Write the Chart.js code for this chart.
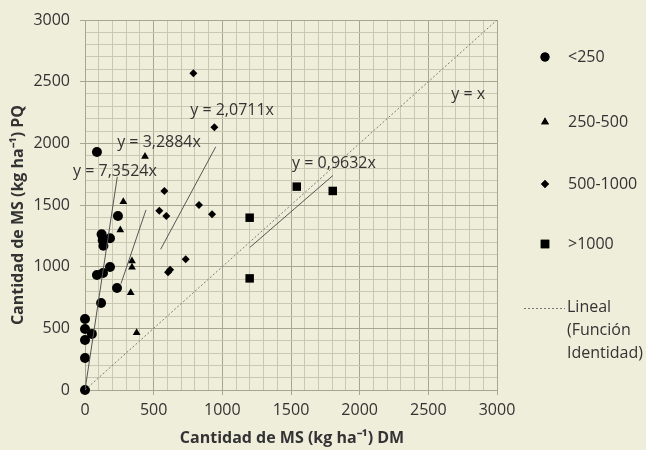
<!DOCTYPE html>
<html>
<head>
<meta charset="utf-8">
<script src="https://cdn.jsdelivr.net/npm/chart.js@4.4.1/dist/chart.umd.min.js"></script>
<style>
  html, body { margin: 0; padding: 0; background: #efeedb; }
  #wrap { width: 646px; height: 450px; }
</style>
</head>
<body>
<div id="wrap"><canvas id="report" width="646" height="450"></canvas></div>
<script>
// datos (kg MS/ha): x = DM, y = PQ
const menor250 = [
    [0, 0], [0, 260], [0, 405], [0, 495], [0, 575], [50, 455],
    [117, 705], [87, 932], [131, 949], [182, 998], [233, 827],
    [87, 1930], [240, 1411], [121, 1262], [129, 1215], [134, 1170], [182, 1230]
];
const de250a500 = [
    [437, 1893], [279, 1527], [257, 1298], [342, 1046], [342, 995], [333, 789], [376, 465]
];
const de500a1000 = [
    [789, 2568], [942, 2130], [578, 1614], [541, 1454], [592, 1411],
    [830, 1500], [925, 1425], [733, 1060], [605, 955], [620, 975]
];
const mayor1000 = [
    [1199, 1397], [1199, 905], [1542, 1649], [1804, 1614]
];

// tramos de las rectas de tendencia (extremos leídos)
const tendencia7 = [[0, 0], [235, 1728]];
const tendencia3 = [[262, 862], [444, 1460]];
const tendencia2 = [[551, 1141], [952, 1972]];
const tendencia09 = [[1200, 1156], [1805, 1739]];
const identidad = [[0, 0], [3000, 3000]];

const ecuaciones = ["y = 7,3524x", "y = 3,2884x", "y = 2,0711x", "y = 0,9632x", "y = x"];
const leyenda = ["<250", "250-500", "500-1000", ">1000"];
const leyendaLineal = ["Lineal", "(Función", "Identidad)"];

const toXY = arr => arr.map(p => ({ x: p[0], y: p[1] }));
const FONT = "'Open Sans', sans-serif";
const TXT = "#333333";

function puntos(label, data, style, radius) {
    return {
        type: 'scatter', label: label, data: toXY(data), clip: false,
        pointStyle: style, pointRadius: radius, pointHoverRadius: radius,
        backgroundColor: '#000', borderColor: '#000', borderWidth: 0
    };
}
function recta(data, color, dash) {
    return {
        type: 'line', data: toXY(data), showLine: true,
        borderColor: color, borderWidth: 1, borderDash: dash || [],
        pointRadius: 0, fill: false
    };
}

const textosPlugin = {
    id: 'textos',
    afterDraw(chart) {
        const ctx = chart.ctx;
        const xs = chart.scales.x, ys = chart.scales.y;
        ctx.save();
        ctx.fillStyle = TXT;
        ctx.font = "16px " + FONT;
        ctx.textAlign = 'center';
        ctx.textBaseline = 'middle';
        // ecuaciones, ancladas en coordenadas de datos
        const anclas = [[218, 1776], [539, 2011], [1071, 2263], [1813, 1841], [2790, 2400]];
        ecuaciones.forEach((t, i) => {
            ctx.fillText(t, xs.getPixelForValue(anclas[i][0]), ys.getPixelForValue(anclas[i][1]));
        });

        // títulos de ejes
        ctx.font = "bold 16px " + FONT;
        ctx.fillText("Cantidad de MS (kg ha⁻¹) DM", 292, 438);
        ctx.save();
        ctx.translate(18, 215);
        ctx.rotate(-Math.PI / 2);
        ctx.fillText("Cantidad de MS (kg ha⁻¹) PQ", 0, 0);
        ctx.restore();

        // leyenda
        const estilos = ['circle', 'triangle', 'rectRot', 'rect'];
        const radios = [4.5, 4.5, 4, 6];
        const ys2 = [57, 122, 184, 244];
        ctx.font = "16px " + FONT;
        ctx.textAlign = 'left';
        leyenda.forEach((t, i) => {
            ctx.fillStyle = '#000';
            ctx.strokeStyle = '#000';
            Chart.helpers.drawPoint(ctx, { pointStyle: estilos[i], radius: radios[i], borderWidth: 0 }, 545, ys2[i]);
            ctx.fill();
            ctx.fillStyle = TXT;
            ctx.fillText(t, 568, ys2[i]);
        });
        ctx.strokeStyle = '#777';
        ctx.lineWidth = 1;
        ctx.setLineDash([2, 2]);
        ctx.beginPath();
        ctx.moveTo(524, 308.5);
        ctx.lineTo(565, 308.5);
        ctx.stroke();
        ctx.setLineDash([]);
        ctx.fillStyle = TXT;
        leyendaLineal.forEach((t, i) => ctx.fillText(t, 567, 307 + i * 23));
        ctx.restore();
    }
};

document.addEventListener("DOMContentLoaded", function () {
    const ctx = document.getElementById('report').getContext('2d');
    const esMayor = v => v % 500 === 0;

    new Chart(ctx, {
        data: {
            datasets: [
                recta(identidad, '#7a7a7a', [2, 2]),
                recta(tendencia7, '#555'),
                recta(tendencia3, '#555'),
                recta(tendencia2, '#555'),
                recta(tendencia09, '#555'),
                puntos('<250', menor250, 'circle', 5),
                puntos('250-500', de250a500, 'triangle', 4.5),
                puntos('500-1000', de500a1000, 'rectRot', 4),
                puntos('>1000', mayor1000, 'rect', 6)
            ]
        },
        options: {
            responsive: false,
            animation: false,
            layout: { padding: { top: 20, right: 149, left: 0, bottom: 0 } },
            plugins: { legend: { display: false }, tooltip: { enabled: false } },
            scales: {
                x: {
                    type: 'linear', min: 0, max: 3000,
                    afterFit: s => { s.height = 60; },
                    ticks: {
                        stepSize: 100, autoSkip: false, maxRotation: 0, padding: 6,
                        color: TXT, font: { family: FONT, size: 16 },
                        callback: v => esMayor(v) ? v : ''
                    },
                    grid: {
                        color: c => esMayor(c.tick.value) ? '#a8a690' : '#cac8b2',
                        tickColor: c => esMayor(c.tick.value) ? '#a8a690' : 'rgba(0,0,0,0)',
                        tickLength: 5
                    },
                    border: { color: '#a8a690' }
                },
                y: {
                    type: 'linear', min: 0, max: 3000,
                    afterFit: s => { s.width = 85; },
                    ticks: {
                        stepSize: 100, autoSkip: false, padding: 10,
                        color: TXT, font: { family: FONT, size: 16 },
                        callback: v => esMayor(v) ? v : ''
                    },
                    grid: {
                        color: c => esMayor(c.tick.value) ? '#a8a690' : '#cac8b2',
                        tickColor: c => esMayor(c.tick.value) ? '#a8a690' : 'rgba(0,0,0,0)',
                        tickLength: 5
                    },
                    border: { color: '#a8a690' }
                }
            }
        },
        plugins: [textosPlugin]
    });
});
</script>
</body>
</html>
